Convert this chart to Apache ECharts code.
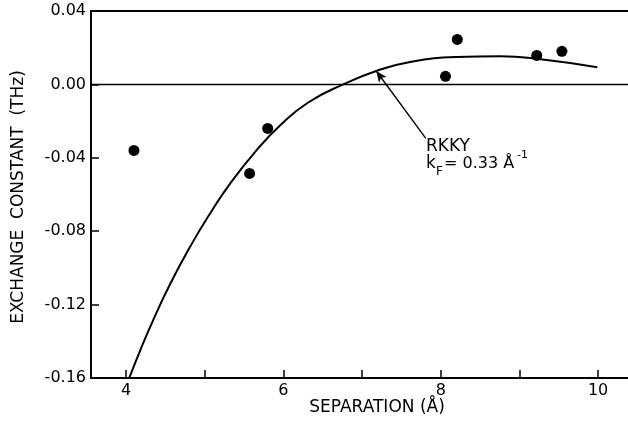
<!DOCTYPE html>
<html>
<head>
<meta charset="utf-8">
<script src="https://cdn.jsdelivr.net/npm/echarts@6/dist/echarts.min.js"></script>
<style>
html,body{margin:0;padding:0;background:#fff;}
#chart{width:628px;height:423px;}
</style>
</head>
<body>
<div id="chart"></div>
<script>
// RKKY curve (separation in Å, exchange constant in THz)
const curveX = [4.04, 4.18, 4.35, 4.56, 4.82, 5.07, 5.32, 5.67, 5.96, 6.31, 6.76, 7.18, 7.61, 8.20, 8.75, 9.22, 9.99];
const curveY = [-0.160, -0.1449, -0.1279, -0.1088, -0.0880, -0.0702, -0.0542, -0.0353, -0.0223, -0.0100, 0.0, 0.0073, 0.0122, 0.0149, 0.0153, 0.0140, 0.0093];
// measured points
const pointX = [4.10, 5.57, 5.80, 8.06, 8.21, 9.22, 9.54];
const pointY = [-0.036, -0.0485, -0.024, 0.0044, 0.0245, 0.0158, 0.018];
// axis ticks
const xTickValues = [4, 5, 6, 7, 8, 9, 10];
const xLabelValues = [4, 6, 8, 10];
// annotation arrow (from label to curve)
const arrowFrom = [7.81, -0.0294];
const arrowTo = [7.18, 0.0073];

const FONT = 'DejaVu Sans';
const chart = echarts.init(document.getElementById('chart'), null, {renderer: 'canvas'});

const curveData = curveX.map((x, i) => [x, curveY[i]]);
const pointData = pointX.map((x, i) => [x, pointY[i]]);

chart.setOption({
  animation: false,
  backgroundColor: '#fff',
  grid: {left: 91, right: 0, top: 11, bottom: 45},
  xAxis: [{
    type: 'value',
    min: 3.554, max: 10.38,
    axisLine: {show: true, onZero: false, lineStyle: {color: '#000', width: 2}},
    axisTick: {show: true, inside: true, length: 8, customValues: xTickValues, lineStyle: {color: '#000', width: 1.5}},
    axisLabel: {show: true, customValues: xLabelValues, margin: 5, color: '#000', fontFamily: FONT, fontSize: 16},
    splitLine: {show: false}
  }, {
    type: 'value', position: 'top',
    min: 3.554, max: 10.38,
    axisLine: {show: true, onZero: false, lineStyle: {color: '#000', width: 2}},
    axisTick: {show: false}, axisLabel: {show: false}, splitLine: {show: false}
  }],
  yAxis: {
    type: 'value',
    min: -0.16, max: 0.04, interval: 0.04,
    axisLine: {show: true, onZero: false, lineStyle: {color: '#000', width: 2}},
    axisTick: {show: true, inside: true, length: 8, lineStyle: {color: '#000', width: 1.5}},
    axisLabel: {margin: 5, color: '#000', fontFamily: FONT, fontSize: 16,
      formatter: v => (Math.abs(v) < 1e-9 ? 0 : v).toFixed(2)},
    splitLine: {show: false}
  },
  series: [{
    type: 'line',
    data: curveData,
    smooth: 0.5,
    showSymbol: false,
    lineStyle: {color: '#000', width: 2},
    silent: true,
    markLine: {
      silent: true,
      animation: false,
      label: {show: false},
      data: [
        [{yAxis: 0, x: 91, symbol: 'none'}, {yAxis: 0, x: 628, symbol: 'none'}],
        [{coord: arrowFrom, symbol: 'none'}, {coord: arrowTo, symbol: 'arrow', symbolSize: [7, 11]}]
      ],
      lineStyle: {color: '#000', width: 1.4, type: 'solid'}
    }
  }, {
    type: 'scatter',
    data: pointData,
    symbol: 'circle',
    symbolSize: 11,
    itemStyle: {color: '#000', opacity: 1},
    silent: true
  }],
  graphic: [
    {type: 'text', x: 19, y: 197, rotation: Math.PI / 2,
     style: {text: 'EXCHANGE  CONSTANT  (THz)', fill: '#000', font: '17px "DejaVu Sans"', textAlign: 'center', textVerticalAlign: 'middle'}},
    {type: 'text', x: 377, y: 408,
     style: {text: 'SEPARATION (Å)', fill: '#000', font: '17px "DejaVu Sans"', textAlign: 'center', textVerticalAlign: 'middle'}},
    {type: 'text', x: 426, y: 147,
     style: {text: 'RKKY', fill: '#000', font: '17px "DejaVu Sans"', textAlign: 'left', textVerticalAlign: 'middle'}},
    {type: 'text', x: 426, y: 164,
     style: {text: 'k', fill: '#000', font: '17px "DejaVu Sans"', textAlign: 'left', textVerticalAlign: 'middle'}},
    {type: 'text', x: 436, y: 172,
     style: {text: 'F', fill: '#000', font: '12px "DejaVu Sans"', textAlign: 'left', textVerticalAlign: 'middle'}},
    {type: 'text', x: 444, y: 164,
     style: {text: '= 0.33 Å', fill: '#000', font: '16px "DejaVu Sans"', textAlign: 'left', textVerticalAlign: 'middle'}},
    {type: 'text', x: 517, y: 155,
     style: {text: '-1', fill: '#000', font: '11px "DejaVu Sans"', textAlign: 'left', textVerticalAlign: 'middle'}}
  ]
});
</script>
</body>
</html>
